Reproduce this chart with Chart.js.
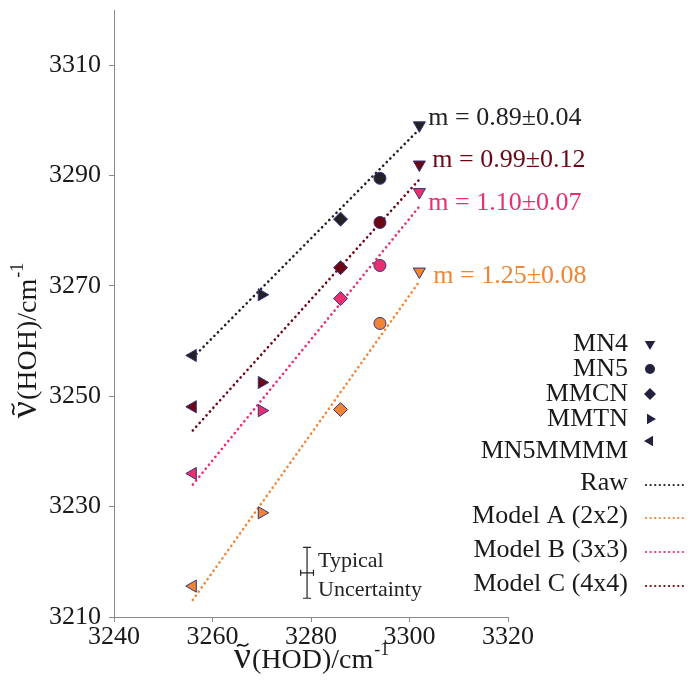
<!DOCTYPE html>
<html>
<head>
<meta charset="utf-8">
<script src="https://cdn.jsdelivr.net/npm/chart.js@4/dist/chart.umd.min.js"></script>
<style>
  body { margin: 0; background: #fff; }
  canvas { display: block; }
</style>
</head>
<body>
<canvas id="chart" width="690" height="680"></canvas>
<script>
// species, in the order MN4, MN5, MMCN, MMTN, MN5MMMM
const species = ["MN4", "MN5", "MMCN", "MMTN", "MN5MMMM"];
const hodValues = [3302, 3294, 3286, 3270, 3256];

// HOH frequencies per model
const rawValues = [3299.1, 3289.5, 3282.1, 3268.4, 3257.4];
const modelAValues = [3272.6, 3263.2, 3247.6, 3228.9, 3215.6];
const modelBValues = [3287.0, 3273.7, 3267.7, 3247.4, 3236.0];
const modelCValues = [3292.0, 3281.5, 3273.3, 3252.5, 3248.1];

// fitted lines (end points)
const fitX = [3256, 3302];
const rawFit = [3257.0, 3298.4];
const modelAFit = [3213.1, 3270.8];
const modelBFit = [3234.0, 3284.4];
const modelCFit = [3243.8, 3289.3];

const slopeLabels = ["m = 0.89\u00b10.04", "m = 0.99\u00b10.12", "m = 1.10\u00b10.07", "m = 1.25\u00b10.08"];
const lineNames = ["Raw", "Model A (2x2)", "Model B (3x3)", "Model C (4x4)"];

const xTicks = [3240, 3260, 3280, 3300, 3320];
const yTicks = [3210, 3230, 3250, 3270, 3290, 3310];

// typical uncertainty: centre and half widths
const uncertaintyCenter = [3279.2, 3218.0];
const uncertaintyErr = [1.3, 4.6];

const SERIF = "'Liberation Serif', 'Times New Roman', serif";
const colors = {
  raw: "#222226",
  modelA: "#ef8535",
  modelB: "#ea2f6f",
  modelC: "#6b0614",
};
const markerBorder = "#34347e";
const pointStyles = ["triangle", "circle", "rectRot", "triangle", "triangle"];
const pointRotations = [180, 0, 0, 90, 270];
const pointRadii = [7, 6, 7, 7, 7];

function pointSet(label, values, color) {
  return {
    type: "scatter",
    label: label,
    data: values.map((v, i) => ({ x: hodValues[i], y: v })),
    backgroundColor: color,
    borderColor: markerBorder,
    borderWidth: 1,
    pointStyle: pointStyles,
    rotation: pointRotations,
    pointRadius: pointRadii,
    order: 1,
  };
}

function fitSet(label, values, color) {
  return {
    type: "line",
    label: label,
    data: values.map((v, i) => ({ x: fitX[i], y: v })),
    borderColor: color,
    borderWidth: 2.6,
    borderDash: [0.1, 5],
    borderCapStyle: "round",
    pointRadius: 0,
    fill: false,
    order: 2,
  };
}

// simple marker drawing for the legend
function drawMarker(ctx, style, rotation, r, x, y) {
  ctx.save();
  ctx.translate(x, y);
  ctx.rotate((rotation * Math.PI) / 180);
  ctx.beginPath();
  if (style === "circle") {
    ctx.arc(0, 0, r, 0, Math.PI * 2);
  } else if (style === "rectRot") {
    ctx.moveTo(0, -r);
    ctx.lineTo(r, 0);
    ctx.lineTo(0, r);
    ctx.lineTo(-r, 0);
  } else {
    ctx.moveTo(0, -r);
    ctx.lineTo(r * 0.87, r * 0.5);
    ctx.lineTo(-r * 0.87, r * 0.5);
  }
  ctx.closePath();
  ctx.fill();
  ctx.restore();
}

function drawTitle(ctx, inner, cx, baseline) {
  const nuFont = "38px " + SERIF;
  const mainFont = "28px " + SERIF;
  const supFont = "18px " + SERIF;
  const body = "(" + inner + ")/cm";
  ctx.font = nuFont;
  const wNu = ctx.measureText("\u03bd").width;
  ctx.font = mainFont;
  const wBody = ctx.measureText(body).width;
  ctx.font = supFont;
  const wSup = ctx.measureText("-1").width;
  const total = wNu + 1 + wBody + wSup;
  let x = cx - total / 2;
  ctx.textAlign = "left";
  ctx.font = nuFont;
  ctx.fillText("\u03bd", x, baseline);
  // tilde above the nu
  ctx.save();
  ctx.lineWidth = 1.8;
  ctx.strokeStyle = ctx.fillStyle;
  const tx0 = x + wNu * 0.2;
  const tx1 = x + wNu * 0.85;
  const ty = baseline - 23;
  ctx.beginPath();
  ctx.moveTo(tx0, ty + 1.5);
  ctx.bezierCurveTo(tx0 + (tx1 - tx0) * 0.3, ty - 4, tx0 + (tx1 - tx0) * 0.55, ty + 5, tx1, ty - 1.5);
  ctx.stroke();
  ctx.restore();
  x += wNu + 1;
  ctx.font = mainFont;
  ctx.fillText(body, x, baseline);
  x += wBody;
  ctx.font = supFont;
  ctx.fillText("-1", x + 1, baseline - 13);
}

const annotationsPlugin = {
  id: "annotations",
  afterDraw(chart) {
    const ctx = chart.ctx;
    const xs = chart.scales.x;
    const ys = chart.scales.y;

    // slope labels next to the MN4 points
    const slopeColors = [colors.raw, colors.modelC, colors.modelB, colors.modelA];
    const slopeAnchors = [rawValues[0], modelCValues[0], modelBValues[0], modelAValues[0]];
    const slopeOffsets = [[9, -7], [13, -4], [9, 11], [14, 5]];
    ctx.save();
    ctx.font = "26px " + SERIF;
    ctx.textBaseline = "middle";
    ctx.textAlign = "left";
    slopeLabels.forEach((text, i) => {
      ctx.fillStyle = slopeColors[i];
      const px = xs.getPixelForValue(hodValues[0]) + slopeOffsets[i][0];
      const py = ys.getPixelForValue(slopeAnchors[i]) + slopeOffsets[i][1];
      ctx.fillText(text, px, py);
    });
    ctx.restore();

    // typical uncertainty cross
    const cx = xs.getPixelForValue(uncertaintyCenter[0]);
    const cy = ys.getPixelForValue(uncertaintyCenter[1]);
    const x0 = xs.getPixelForValue(uncertaintyCenter[0] - uncertaintyErr[0]);
    const x1 = xs.getPixelForValue(uncertaintyCenter[0] + uncertaintyErr[0]);
    const y0 = ys.getPixelForValue(uncertaintyCenter[1] + uncertaintyErr[1]);
    const y1 = ys.getPixelForValue(uncertaintyCenter[1] - uncertaintyErr[1]);
    ctx.save();
    ctx.strokeStyle = "#222";
    ctx.lineWidth = 1.2;
    ctx.beginPath();
    ctx.moveTo(cx, y0); ctx.lineTo(cx, y1);
    ctx.moveTo(cx - 4, y0); ctx.lineTo(cx + 4, y0);
    ctx.moveTo(cx - 4, y1); ctx.lineTo(cx + 4, y1);
    ctx.moveTo(x0, cy); ctx.lineTo(x1, cy);
    ctx.moveTo(x0, cy - 3); ctx.lineTo(x0, cy + 3);
    ctx.moveTo(x1, cy - 3); ctx.lineTo(x1, cy + 3);
    ctx.stroke();
    ctx.fillStyle = "#222";
    ctx.font = "22px " + SERIF;
    ctx.textAlign = "left";
    ctx.textBaseline = "alphabetic";
    ctx.fillText("Typical", cx + 11, cy - 6);
    ctx.fillText("Uncertainty", cx + 11, cy + 23);
    ctx.restore();

    // legend
    ctx.save();
    ctx.font = "26px " + SERIF;
    ctx.textAlign = "right";
    ctx.textBaseline = "middle";
    const textRight = 628;
    const markerY = [344, 369, 394, 419, 441];
    const textY = [344, 369, 394, 419, 451];
    species.forEach((name, i) => {
      ctx.fillStyle = "#1a1a1a";
      ctx.fillText(name, textRight, textY[i]);
      ctx.fillStyle = "#22223e";
      drawMarker(ctx, pointStyles[i], pointRotations[i], i === 1 ? 5 : 6, 650, markerY[i]);
    });
    const lineY = [483, 516, 550, 584];
    const lineColors = [colors.raw, colors.modelA, colors.modelB, colors.modelC];
    lineNames.forEach((name, i) => {
      ctx.fillStyle = "#1a1a1a";
      ctx.fillText(name, textRight, lineY[i]);
      ctx.strokeStyle = lineColors[i];
      ctx.lineWidth = 2.2;
      ctx.lineCap = "round";
      ctx.setLineDash([0.1, 4.5]);
      ctx.beginPath();
      ctx.moveTo(646, lineY[i] + 2);
      ctx.lineTo(687, lineY[i] + 2);
      ctx.stroke();
    });
    ctx.restore();

    // axis titles
    ctx.save();
    ctx.fillStyle = "#1a1a1a";
    ctx.textBaseline = "alphabetic";
    drawTitle(ctx, "HOD", 311, 668);
    ctx.translate(36, 341);
    ctx.rotate(-Math.PI / 2);
    drawTitle(ctx, "HOH", 0, 0);
    ctx.restore();
  },
};

const axisColor = "#8a8a8a";
const noPadding = (s) => {
  s.paddingTop = 0;
  s.paddingBottom = 0;
  s.paddingLeft = 0;
  s.paddingRight = 0;
};

new Chart(document.getElementById("chart"), {
  data: {
    datasets: [
      fitSet("Raw", rawFit, colors.raw),
      fitSet("Model A (2x2)", modelAFit, colors.modelA),
      fitSet("Model B (3x3)", modelBFit, colors.modelB),
      fitSet("Model C (4x4)", modelCFit, colors.modelC),
      pointSet("Raw points", rawValues, colors.raw),
      pointSet("Model C points", modelCValues, colors.modelC),
      pointSet("Model B points", modelBValues, colors.modelB),
      pointSet("Model A points", modelAValues, colors.modelA),
    ],
  },
  options: {
    responsive: false,
    animation: false,
    devicePixelRatio: 1,
    layout: { padding: { left: 0, top: 10, right: 182, bottom: 0 } },
    plugins: {
      legend: { display: false },
      tooltip: { enabled: false },
    },
    scales: {
      x: {
        type: "linear",
        min: 3240,
        max: 3320,
        afterBuildTicks: (s) => { s.ticks = xTicks.map((v) => ({ value: v })); },
        afterFit: (s) => { s.height = 63; noPadding(s); },
        ticks: {
          font: { family: SERIF, size: 26 },
          color: "#1a1a1a",
          padding: 0,
          maxRotation: 0,
          callback: (v) => String(v),
        },
        grid: { display: true, drawOnChartArea: false, drawTicks: true, tickLength: 5, color: axisColor },
        border: { display: true, color: axisColor, width: 1 },
      },
      y: {
        type: "linear",
        min: 3210,
        max: 3320,
        afterBuildTicks: (s) => { s.ticks = yTicks.map((v) => ({ value: v })); },
        afterFit: (s) => { s.width = 114; noPadding(s); },
        ticks: {
          font: { family: SERIF, size: 26 },
          color: "#1a1a1a",
          padding: 8,
          callback: (v) => String(v),
        },
        grid: { display: true, drawOnChartArea: false, drawTicks: true, tickLength: 5, color: axisColor },
        border: { display: true, color: axisColor, width: 1 },
      },
    },
  },
  plugins: [annotationsPlugin],
});
</script>
</body>
</html>
